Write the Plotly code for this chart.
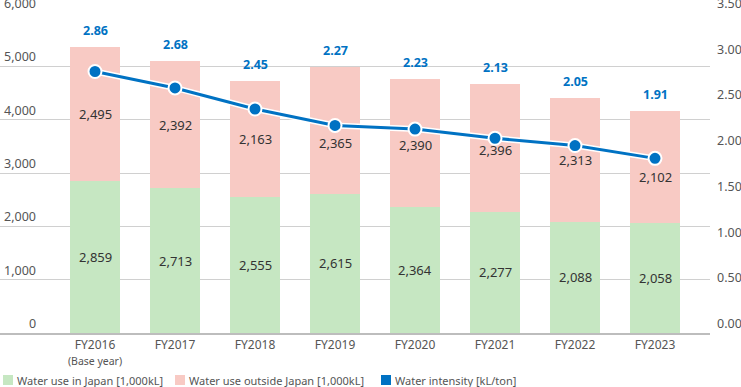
import plotly.graph_objects as go

categories = ["FY2016", "FY2017", "FY2018", "FY2019", "FY2020", "FY2021", "FY2022", "FY2023"]
category_labels = ["FY2016<br><span style='font-size:10.5px'>(Base year)</span>", "FY2017", "FY2018",
                   "FY2019", "FY2020", "FY2021", "FY2022", "FY2023"]
japan = [2859, 2713, 2555, 2615, 2364, 2277, 2088, 2058]
outside = [2495, 2392, 2163, 2365, 2390, 2396, 2313, 2102]
intensity = [2.86, 2.68, 2.45, 2.27, 2.23, 2.13, 2.05, 1.91]
left_ticks = [0, 1000, 2000, 3000, 4000, 5000, 6000]
right_ticks = [0, 0.5, 1.0, 1.5, 2.0, 2.5, 3.0, 3.5]

names = ["Water use in Japan [1,000kL]", "Water use outside Japan [1,000kL]", "Water intensity [kL/ton]"]
GREEN = "#c6e7c2"
PINK = "#f8cac4"
BLUE = "#0072c3"
FONT = "Noto Sans"
PLOT_W = 710.0
PLOT_H = 320.0
# pixel nudges (downwards) of the "outside Japan" value labels, to keep them clear of the line
outside_label_nudge = [0, 0, 0, 13, 2, 2, 0, 10]

fig = go.Figure()
fig.add_trace(go.Bar(
    x=categories, y=japan, name=names[0], marker=dict(color=GREEN, line=dict(width=0)),
    width=0.625, hoverinfo="skip",
))
fig.add_trace(go.Bar(
    x=categories, y=outside, name=names[1], marker=dict(color=PINK, line=dict(width=0)),
    width=0.625, hoverinfo="skip",
))
# white halo under the line
fig.add_trace(go.Scatter(
    x=categories, y=intensity, yaxis="y2", mode="lines", line=dict(color="white", width=6),
    hoverinfo="skip",
))
fig.add_trace(go.Scatter(
    x=categories, y=intensity, yaxis="y2", mode="lines+markers", name=names[2],
    line=dict(color=BLUE, width=3),
    marker=dict(size=13, color=BLUE, line=dict(color="white", width=2)),
    hoverinfo="skip",
))

annotations = []
shapes = []
val_font = dict(family=FONT, size=13, color="#333333")
for c, a, b, v, nudge in zip(categories, japan, outside, intensity, outside_label_nudge):
    annotations.append(dict(
        x=c, y=a / 2, xref="x", yref="y", text=f"{a:,}", showarrow=False,
        yanchor="middle", font=val_font,
    ))
    annotations.append(dict(
        x=c, y=a + b / 2, xref="x", yref="y", text=f"{b:,}", showarrow=False,
        yanchor="middle", yshift=-nudge, font=val_font,
    ))
    annotations.append(dict(
        x=c, y=a + b, xref="x", yref="y", text=f"{v:.2f}", showarrow=False,
        yanchor="bottom", yshift=6, font=dict(family=FONT, size=12.5, color=BLUE, weight="bold"),
    ))
for t in left_ticks:
    annotations.append(dict(
        x=38 / PLOT_W, xref="paper", y=t, yref="y", text=f"{t:,}", showarrow=False,
        xanchor="right", yanchor="bottom", yshift=-1, font=dict(family=FONT, size=12.5, color="#555555"),
    ))
for t in right_ticks:
    annotations.append(dict(
        x=1, xref="paper", xshift=5, y=t, yref="y2", text=f"{t:.2f}", showarrow=False,
        xanchor="left", yanchor="bottom", yshift=-1, font=dict(family=FONT, size=12.5, color="#555555"),
    ))

# custom legend (square swatch + label)
legend_colors = [GREEN, PINK, BLUE]
legend_x = [3, 175, 381]
ly_top, ly_bot = 375, 385
for name, col, lx in zip(names, legend_colors, legend_x):
    shapes.append(dict(
        type="rect", xref="paper", yref="paper",
        x0=lx / PLOT_W, x1=(lx + 10) / PLOT_W,
        y0=(333 - ly_bot) / PLOT_H, y1=(333 - ly_top) / PLOT_H,
        fillcolor=col, line=dict(width=0),
    ))
    annotations.append(dict(
        x=(lx + 12) / PLOT_W, xref="paper", y=(333 - 380) / PLOT_H, yref="paper",
        text=name, showarrow=False, xanchor="left", yanchor="middle",
        font=dict(family=FONT, size=11, color="#555555"),
    ))

fig.update_layout(
    width=741, height=387,
    margin=dict(l=0, r=31, t=13, b=54, autoexpand=False),
    paper_bgcolor="white", plot_bgcolor="white",
    barmode="stack",
    font=dict(family=FONT, size=12, color="#555555"),
    xaxis=dict(
        type="category", range=[-1.1875, 7.6875], tickvals=categories, ticktext=category_labels,
        showline=True, linecolor="#bdbdbd", linewidth=2, ticks="", showgrid=False, automargin=False,
        tickfont=dict(family=FONT, size=12, color="#555555"), fixedrange=True,
    ),
    yaxis=dict(
        range=[0, 6000], tickvals=left_ticks, showticklabels=False, showgrid=True, automargin=False,
        gridcolor="#d0d0d0", gridwidth=1, zeroline=False, fixedrange=True,
    ),
    yaxis2=dict(
        overlaying="y", side="right", range=[0, 3.5], tickvals=right_ticks, automargin=False,
        showticklabels=False, showgrid=False, zeroline=False, showline=False, fixedrange=True,
    ),
    annotations=annotations,
    shapes=shapes,
    showlegend=False,
)

fig.write_html(
    "out.html",
    config={"displayModeBar": False},
    post_script="document.body.style.margin='0';document.body.style.overflow='hidden';",
)
